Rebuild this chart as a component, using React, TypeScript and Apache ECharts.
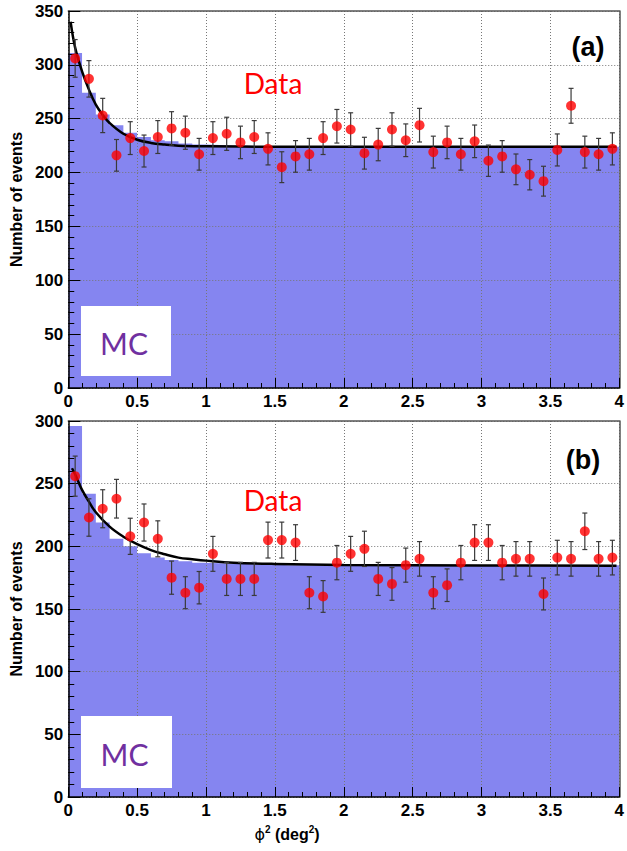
import React, { useEffect, useRef } from "react";
import * as echarts from "echarts";

// Bin centres (bin width 0.1 deg^2)
const binCenters = [
  0.05, 0.15, 0.25, 0.35, 0.45, 0.55, 0.65, 0.75, 0.85, 0.95,
  1.05, 1.15, 1.25, 1.35, 1.45, 1.55, 1.65, 1.75, 1.85, 1.95,
  2.05, 2.15, 2.25, 2.35, 2.45, 2.55, 2.65, 2.75, 2.85, 2.95,
  3.05, 3.15, 3.25, 3.35, 3.45, 3.55, 3.65, 3.75, 3.85, 3.95,
];
const binWidth = 0.1;

// Panel (a)
const dataA = [
  306, 287, 253, 216, 232, 220, 233, 241, 237, 217,
  232, 236, 228, 233, 222, 205, 215, 217, 232, 243,
  240, 218, 226, 240, 230, 244, 219, 228, 217, 229,
  211, 215, 203, 198, 192, 221, 262, 219, 217, 222,
];
const mcA = [
  311, 274, 254, 244, 237, 233, 230, 229, 227, 226,
  225.5, 225, 225, 224.5, 224.5, 224, 224, 224, 224, 224,
  224, 224, 224, 224, 224, 224, 224, 224, 224, 224,
  224, 224, 224, 224, 224, 224, 224, 224, 224, 224,
];
const fitXA = [0.017, 0.05, 0.1, 0.15, 0.2, 0.25, 0.3, 0.4, 0.5, 0.6, 0.7, 0.8, 1.0, 1.5, 2.0, 3.0, 3.98];
const fitYA = [340, 316, 294, 277, 263, 253.5, 246, 236, 230.5, 227.5, 226, 225, 224.5, 224, 224, 224, 224];

// Panel (b)
const dataB = [
  256, 223, 230, 238, 208, 219, 206, 175, 163, 167,
  194, 174, 174, 174, 205, 205, 203, 163, 160, 187,
  194, 198, 174, 170, 185, 190, 163, 169, 187, 203,
  203, 187, 190, 190, 162, 191, 190, 212, 190, 191,
];
const mcB = [
  296, 242, 219, 206, 200, 194.5, 191, 189, 188, 187,
  186.5, 186, 186, 185.5, 185.5, 185, 185, 185, 185, 185,
  185, 185, 185, 185, 185, 185, 185, 185, 185, 185,
  185, 185, 185, 185, 185, 185, 185, 185, 185, 185,
];
const fitXB = [0.027, 0.05, 0.1, 0.15, 0.2, 0.3, 0.4, 0.5, 0.6, 0.7, 0.8, 0.9, 1.0, 1.2, 1.5, 2.0, 3.0, 3.98];
const fitYB = [262.3, 257.5, 245, 235.7, 227.2, 215.7, 207.7, 201.7, 197, 193.7, 191, 189.7, 188.6, 187, 186, 185.2, 184.8, 184.6];

const xMin = 0;
const xMax = 4;
const yMaxA = 350;
const yMaxB = 300;

const FONT = "Liberation Sans, Arial, sans-serif";
const MC_COLOR = "#8585f0";

export default function App() {
  const ref = useRef<HTMLDivElement>(null);

  useEffect(() => {
    const chart = echarts.init(ref.current!, null, { renderer: "svg" });

    const gridsPx = [
      { left: 67, top: 11, width: 557, height: 377 },
      { left: 67, top: 421, width: 557, height: 376 },
    ];

    const mainX = (gi: number) => ({
      type: "value",
      gridIndex: gi,
      min: xMin,
      max: xMax,
      interval: 0.5,
      position: "bottom",
      z: 5,
      axisLine: { show: true, onZero: false, lineStyle: { color: "#000", width: 1.5 } },
      axisTick: { show: true, inside: true, length: 10, lineStyle: { color: "#000", width: 1 } },
      minorTick: { show: true, splitNumber: 5, length: 5, lineStyle: { color: "#000", width: 1 } },
      axisLabel: {
        show: true,
        margin: 5,
        color: "#000",
        fontFamily: FONT,
        fontWeight: "bold",
        fontSize: 17,
        showMinLabel: true,
        showMaxLabel: true,
      },
      splitLine: { show: true, lineStyle: { color: "#777", width: 1, type: [1, 2] } },
    });
    const frameX = (gi: number) => ({
      type: "value",
      gridIndex: gi,
      min: xMin,
      max: xMax,
      position: "top",
      z: 5,
      axisLine: { show: true, onZero: false, lineStyle: { color: "#555", width: 1.5 } },
      axisTick: { show: false },
      axisLabel: { show: false },
      splitLine: { show: false },
    });
    const mainY = (gi: number, max: number) => ({
      type: "value",
      gridIndex: gi,
      min: 0,
      max,
      interval: 50,
      position: "left",
      z: 5,
      name: "Number of events",
      nameLocation: "middle",
      nameGap: 40,
      nameTextStyle: { color: "#000", fontFamily: FONT, fontWeight: "bold", fontSize: 16 },
      axisLine: { show: true, onZero: false, lineStyle: { color: "#000", width: 1.5 } },
      axisTick: { show: true, inside: true, length: 12, lineStyle: { color: "#000", width: 1 } },
      minorTick: { show: true, splitNumber: 5, length: 6, lineStyle: { color: "#000", width: 1 } },
      axisLabel: {
        show: true,
        margin: 5,
        color: "#000",
        fontFamily: FONT,
        fontWeight: "bold",
        fontSize: 17,
      },
      splitLine: { show: true, lineStyle: { color: "#777", width: 1, type: [1, 2] } },
    });
    const frameY = (gi: number, max: number) => ({
      type: "value",
      gridIndex: gi,
      min: 0,
      max,
      position: "right",
      z: 5,
      axisLine: { show: true, onZero: false, lineStyle: { color: "#555", width: 1.5 } },
      axisTick: { show: false },
      axisLabel: { show: false },
      splitLine: { show: false },
    });

    const histData = (mc: number[]) => {
      const pts = mc.map((v, i) => [binCenters[i] - binWidth / 2, v]);
      pts.push([binCenters[mc.length - 1] + binWidth / 2, mc[mc.length - 1]]);
      return pts;
    };

    const errorRender = (_params: any, api: any) => {
      const x = api.value(0);
      const y = api.value(1);
      const e = api.value(2);
      const top = api.coord([x, y + e]);
      const bot = api.coord([x, y - e]);
      const c = 2.5;
      const st = { stroke: "#3a3a3a", lineWidth: 1.2 };
      return {
        type: "group",
        children: [
          { type: "line", shape: { x1: top[0], y1: top[1], x2: bot[0], y2: bot[1] }, style: st },
          { type: "line", shape: { x1: top[0] - c, y1: top[1], x2: top[0] + c, y2: top[1] }, style: st },
          { type: "line", shape: { x1: bot[0] - c, y1: bot[1], x2: bot[0] + c, y2: bot[1] }, style: st },
        ],
      };
    };

    const panelSeries = (gi: number, data: number[], mc: number[], fx: number[], fy: number[]) => {
      const xi = gi * 2;
      const yi = gi * 2;
      return [
        {
          type: "line",
          xAxisIndex: xi,
          yAxisIndex: yi,
          step: "end",
          data: histData(mc),
          symbol: "none",
          lineStyle: { width: 0, color: MC_COLOR },
          areaStyle: { color: MC_COLOR, opacity: 1 },
          z: 1,
          silent: true,
        },
        {
          type: "line",
          xAxisIndex: xi,
          yAxisIndex: yi,
          data: fx.map((x, i) => [x, fy[i]]),
          smooth: 0.4,
          symbol: "none",
          lineStyle: { color: "#000", width: 2.5 },
          z: 6,
        },
        {
          type: "custom",
          xAxisIndex: xi,
          yAxisIndex: yi,
          data: binCenters.map((x, i) => [x, data[i], Math.sqrt(data[i])]),
          renderItem: errorRender,
          z: 7,
        },
        {
          type: "scatter",
          xAxisIndex: xi,
          yAxisIndex: yi,
          data: binCenters.map((x, i) => [x, data[i]]),
          symbol: "circle",
          symbolSize: 10,
          itemStyle: { color: "#ff0000" },
          z: 8,
        },
      ];
    };

    const mcBox = (x: number, y: number, w: number, h: number, cy: number) => [
      { type: "rect", shape: { x, y, width: w, height: h }, style: { fill: "#fff" }, z: 100 },
      {
        type: "text",
        x: x + w / 2 - 2,
        y: cy,
        z: 101,
        style: {
          text: "MC",
          fill: "#7030a0",
          font: "30px Lato, 'Open Sans', sans-serif",
          textAlign: "center",
          textVerticalAlign: "middle",
        },
      },
    ];

    const option: any = {
      animation: false,
      backgroundColor: "#fff",
      grid: gridsPx.map((g) => ({ ...g, containLabel: false })),
      xAxis: [mainX(0), frameX(0), mainX(1), frameX(1)],
      yAxis: [mainY(0, yMaxA), frameY(0, yMaxA), mainY(1, yMaxB), frameY(1, yMaxB)],
      series: [
        ...panelSeries(0, dataA, mcA, fitXA, fitYA),
        ...panelSeries(1, dataB, mcB, fitXB, fitYB),
      ],
      graphic: [
        ...mcBox(81, 306, 90, 70, 343),
        ...mcBox(81, 716, 91, 72, 754),
        {
          type: "text",
          x: 273,
          y: 83,
          z: 101,
          style: { text: "Data", fill: "#ff0000", font: "28px Lato, 'Open Sans', sans-serif", textAlign: "center", textVerticalAlign: "middle" },
        },
        {
          type: "text",
          x: 273,
          y: 500,
          z: 101,
          style: { text: "Data", fill: "#ff0000", font: "28px Lato, 'Open Sans', sans-serif", textAlign: "center", textVerticalAlign: "middle" },
        },
        {
          type: "text",
          x: 588,
          y: 47,
          z: 101,
          style: { text: "(a)", fill: "#000", font: "bold 27px 'Liberation Sans', Arial, sans-serif", textAlign: "center", textVerticalAlign: "middle" },
        },
        {
          type: "text",
          x: 583,
          y: 460,
          z: 101,
          style: { text: "(b)", fill: "#000", font: "bold 27px 'Liberation Sans', Arial, sans-serif", textAlign: "center", textVerticalAlign: "middle" },
        },
        {
          type: "text",
          x: 287,
          y: 833,
          z: 101,
          style: {
            text: "{p|ϕ}{s|2}{m| (deg}{s|2}{m|)}",
            textAlign: "center",
            textVerticalAlign: "middle",
            rich: {
              p: { fontFamily: "DejaVu Sans, sans-serif", fontSize: 16, fill: "#000", verticalAlign: "bottom" },
              m: { fontFamily: FONT, fontWeight: "bold", fontSize: 16, fill: "#000", verticalAlign: "bottom" },
              s: { fontFamily: FONT, fontWeight: "bold", fontSize: 10, fill: "#000", verticalAlign: "top", padding: [0, 0, 8, 0] },
            },
          },
        },
      ],
    };

    chart.setOption(option);
    return () => chart.dispose();
  }, []);

  return (
    <div
      ref={ref}
      style={{ position: "absolute", left: 0, top: 0, width: 627, height: 851, background: "#fff" }}
    />
  );
}
